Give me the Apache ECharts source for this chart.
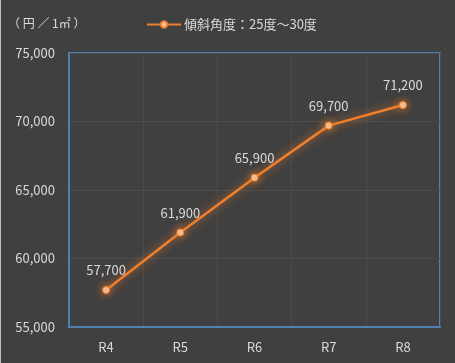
<!DOCTYPE html>
<html>
<head>
<meta charset="utf-8">
<script src="https://cdn.jsdelivr.net/npm/echarts@6/dist/echarts.min.js"></script>
<style>
  html, body { margin: 0; padding: 0; background: #404040; }
  #main { width: 455px; height: 363px; box-sizing: border-box; border-left: 1px solid #bfbfbf; }
</style>
</head>
<body>
<div id="main"></div>
<script>
var years = ['R4', 'R5', 'R6', 'R7', 'R8'];
var prices = [57700, 61900, 65900, 69700, 71200];
var seriesName = '傾斜角度：25度～30度';
var unitLabel = '（ 円 ／ 1㎡ ）';

var chartDom = document.getElementById('main');
var myChart = echarts.init(chartDom);
var font = '"Noto Sans CJK JP", "Noto Sans", sans-serif';
var textColor = '#d9d9d9';
var frameColor = '#4f81b0';

var option = {
  backgroundColor: '#404040',
  textStyle: { fontFamily: font },
  title: {
    text: unitLabel,
    left: 2,
    top: 12,
    textStyle: { color: textColor, fontSize: 12, fontWeight: 'normal', fontFamily: font }
  },
  legend: {
    top: 13,
    left: 140,
    itemWidth: 34,
    itemHeight: 8,
    itemGap: 4,
    textStyle: { color: textColor, fontSize: 13, fontFamily: font, padding: [0, 0, 0, -2] },
    data: [seriesName]
  },
  grid: {
    left: 68, right: 15, top: 53, bottom: 36,
    show: true, borderColor: frameColor, borderWidth: 2, backgroundColor: 'transparent'
  },
  xAxis: {
    type: 'category',
    data: years,
    boundaryGap: true,
    axisLine: { show: true, lineStyle: { color: frameColor, width: 2 } },
    axisTick: { show: false },
    axisLabel: { color: textColor, fontSize: 13, margin: 14 },
    splitLine: { show: true, lineStyle: { color: '#4c4c4c', width: 1 } }
  },
  yAxis: {
    type: 'value',
    min: 55000,
    max: 75000,
    interval: 5000,
    axisLine: { show: true, lineStyle: { color: frameColor, width: 2 } },
    axisTick: { show: false },
    axisLabel: {
      color: textColor, fontSize: 13, margin: 14,
      formatter: function (v) { return v.toLocaleString('en-US'); }
    },
    splitLine: { lineStyle: { color: '#4c4c4c', width: 1 } }
  },
  series: [
    {
      name: seriesName,
      type: 'line',
      data: prices,
      symbol: 'circle',
      symbolSize: 7,
      lineStyle: {
        color: '#f07f2c', width: 2.5,
        shadowColor: 'rgba(240,127,44,0.8)', shadowBlur: 8
      },
      itemStyle: {
        color: '#f9c29a', borderColor: '#f07f2c', borderWidth: 1,
        shadowColor: 'rgba(240,127,44,0.9)', shadowBlur: 8
      },
      label: {
        show: true,
        position: 'top',
        distance: 9,
        color: textColor,
        fontSize: 13,
        formatter: function (p) { return p.value.toLocaleString('en-US'); }
      }
    }
  ]
};
option && myChart.setOption(option);
</script>
</body>
</html>
